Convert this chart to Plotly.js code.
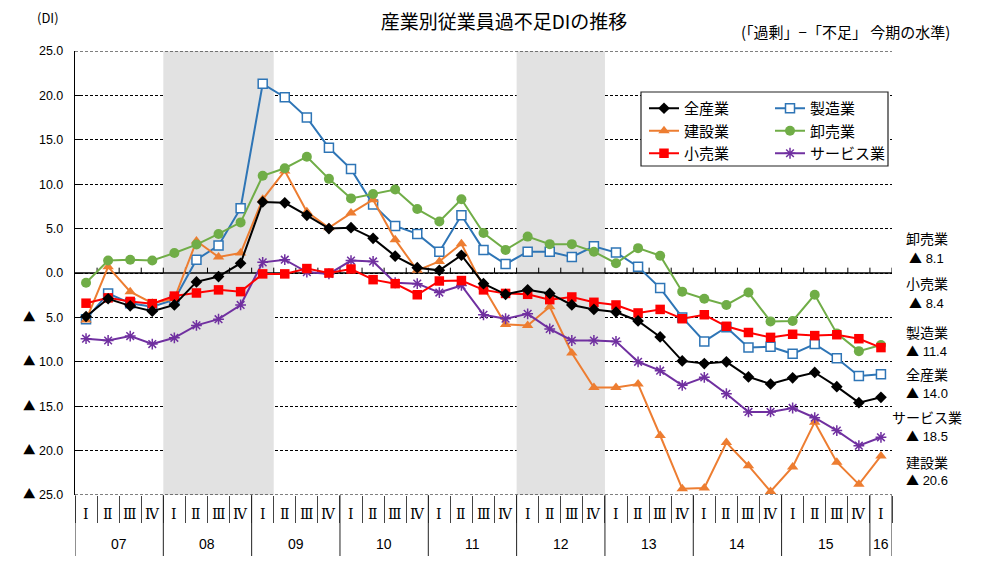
<!DOCTYPE html>
<html><head><meta charset="utf-8">
<script src="https://cdn.plot.ly/plotly-3.0.1.min.js"></script>
<style>body{margin:0;background:#fff}#chart{width:1000px;height:570px}</style>
</head><body><div id="chart"></div>
<script>
// ---- data ----
const years = ['07','08','09','10','11','12','13','14','15','16'];
const quarterNames = ['Ⅰ','Ⅱ','Ⅲ','Ⅳ'];
const periods = [];
years.forEach(y => quarterNames.forEach(q => { if (periods.length < 37) periods.push(y + q); }));

const allIndustry = [-4.9,-2.9,-3.7,-4.3,-3.6,-1.0,-0.4,1.1,8.0,7.9,6.5,5.0,5.1,3.9,1.9,0.6,0.3,2.0,-1.2,-2.4,-1.9,-2.3,-3.6,-4.1,-4.4,-5.4,-7.2,-9.9,-10.2,-10.0,-11.7,-12.5,-11.8,-11.2,-12.8,-14.6,-14.0];
const manufacturing = [-5.2,-2.3,-3.4,-3.8,-3.0,1.5,3.1,7.3,21.3,19.8,17.5,14.1,11.7,7.7,5.3,4.4,2.4,6.5,2.6,1.0,2.4,2.4,1.8,3.0,2.3,0.7,-1.7,-5.0,-7.7,-6.1,-8.4,-8.3,-9.1,-8.0,-9.6,-11.6,-11.4];
const construction = [-5.3,0.7,-2.1,-3.4,-2.9,3.6,1.8,2.25,8.3,11.5,6.9,5.1,6.75,8.25,3.75,0.3,1.3,3.3,-1.6,-5.8,-5.9,-3.8,-9.0,-12.9,-12.9,-12.5,-18.3,-24.3,-24.2,-19.1,-21.7,-24.6,-21.85,-16.8,-21.3,-23.8,-20.6];
const wholesale = [-1.1,1.4,1.5,1.4,2.25,3.2,4.4,5.7,10.95,11.8,13.1,10.6,8.4,8.9,9.4,7.2,5.8,8.3,4.5,2.6,4.1,3.25,3.25,2.4,1.1,2.8,1.95,-2.1,-2.9,-3.6,-2.2,-5.45,-5.4,-2.45,-6.8,-8.8,-8.1];
const retail = [-3.4,-2.8,-3.2,-3.45,-2.6,-2.25,-1.9,-2.1,-0.1,-0.1,0.5,0.0,0.45,-0.75,-1.2,-2.45,-0.9,-0.85,-1.9,-2.3,-2.4,-3.0,-2.7,-3.3,-3.6,-4.5,-4.1,-5.15,-4.7,-6.0,-6.7,-7.25,-6.9,-7.05,-6.95,-7.4,-8.4];
const services = [-7.4,-7.6,-7.1,-8.0,-7.3,-5.9,-5.2,-3.6,1.2,1.5,0.1,-0.1,1.4,1.3,-1.1,-1.2,-2.2,-1.4,-4.7,-5.15,-4.6,-6.3,-7.6,-7.6,-7.7,-10.0,-11.0,-12.65,-11.75,-13.6,-15.65,-15.65,-15.2,-16.3,-17.75,-19.45,-18.5];

const yTicks = [25,20,15,10,5,0,-5,-10,-15,-20,-25];
const shadedPeriods = [['08Ⅰ','09Ⅰ'], ['12Ⅰ','12Ⅳ']];

// ---- helpers ----
const W = 1000, H = 570, L = 75, R = 892, T = 51, B = 495;
const px = x => (x - L) / (R - L);
const py = y => (B - y) / (B - T);
const xIdx = periods.map((p, i) => i);
const TRI = '<span style="font-family:Noto Sans CJK JP">▲</span>';
const fmt = v => v < 0 ? TRI + ' ' + (-v).toFixed(1) : v.toFixed(1);
const fmtTick = v => v < 0 ? TRI + ' ' + (-v < 10 ? '\u2007' : '') + (-v).toFixed(1) : v.toFixed(1);
const CJK = '"Noto Sans CJK JP", "Noto Sans", sans-serif';
const LAT = '"Liberation Sans", Arial, sans-serif';
const ROM = '"DejaVu Serif", "Noto Sans CJK JP", serif';

function series(name, y, color, symbol, size, legend, rank, markerFill, mlw) {
  return {
    type: 'scatter', mode: 'lines+markers', x: xIdx, y: y, name: name,
    legend: legend, legendrank: rank,
    line: {color: color, width: 2},
    marker: {symbol: symbol, size: size, color: markerFill || color,
             line: {color: color, width: mlw || 0}},
    hoverinfo: 'skip'
  };
}

const traces = [
  series('製造業', manufacturing, '#2E75B6', 'square', 9, 'legend2', 1, '#ffffff', 1.5),
  series('建設業', construction, '#ED7D31', 'triangle-up', 10, 'legend', 2),
  series('卸売業', wholesale, '#70AD47', 'circle', 10, 'legend2', 2),
  series('サービス業', services, '#7030A0', 'asterisk-open', 9, 'legend2', 3, '#7030A0', 1.5),
  series('小売業', retail, '#FF0000', 'square', 9.5, 'legend', 3),
  series('全産業', allIndustry, '#000000', 'diamond', 9, 'legend', 1)
];

// boundaries
const yearBounds = [-0.5];
years.forEach(y => {
  const idx = periods.map((p, i) => p.startsWith(y) ? i : -1).filter(i => i >= 0);
  yearBounds.push(idx[idx.length - 1] + 0.5);
});
const quarterBounds = periods.map((p, i) => i - 0.5).concat([periods.length - 0.5]);

const shapes = [];
shadedPeriods.forEach(([a, b]) => {
  shapes.push({type: 'rect', xref: 'x', yref: 'y', x0: periods.indexOf(a) - 0.5, x1: periods.indexOf(b) + 0.5,
    y0: -25, y1: 25, fillcolor: '#e2e2e2', line: {width: 0}, layer: 'between'});
});
[25, -25].forEach(v => shapes.push({type: 'line', xref: 'x', yref: 'y', x0: -0.5, x1: periods.length - 0.5,
  y0: v, y1: v, line: {color: '#000', width: 1, dash: '3px,2px'}, layer: 'between'}));
shapes.push({type: 'line', xref: 'x', yref: 'y', x0: -0.5, x1: periods.length - 0.5, y0: 0, y1: 0,
  line: {color: '#000', width: 1.5}, layer: 'between'});
quarterBounds.slice(1).forEach(b => shapes.push({type: 'line', xref: 'x', yref: 'y', x0: b, x1: b, y0: 0, y1: 0.6,
  line: {color: '#000', width: 1}, layer: 'between'}));
// year separators in the category table
yearBounds.forEach(b => shapes.push({type: 'line', xref: 'x', yref: 'paper', x0: b, x1: b, y0: 0, y1: py(556),
  line: {color: '#222', width: 1}, layer: 'above'}));
// legend frame
shapes.push({type: 'rect', xref: 'paper', yref: 'paper', x0: px(641), x1: px(888), y0: py(166), y1: py(92),
  fillcolor: '#ffffff', line: {color: '#222', width: 1.2}, layer: 'above'});

const annotations = [];
periods.forEach((p, i) => annotations.push({xref: 'x', yref: 'paper', x: i, y: py(514), text: quarterNames[i % 4],
  showarrow: false, xanchor: 'center', yanchor: 'middle', font: {family: ROM, size: 14, color: '#000'}}));
years.forEach(y => {
  const idx = periods.map((p, i) => p.startsWith(y) ? i : -1).filter(i => i >= 0);
  const c = (idx[0] + idx[idx.length - 1]) / 2;
  annotations.push({xref: 'x', yref: 'paper', x: c, y: py(544), text: y, showarrow: false,
    xanchor: 'center', yanchor: 'middle', font: {family: LAT, size: 14, color: '#000'}});
});
annotations.push({xref: 'paper', yref: 'paper', x: px(48), y: py(18), text: '(DI)', showarrow: false,
  xanchor: 'center', yanchor: 'middle', font: {family: CJK, size: 13, color: '#000'}});
annotations.push({xref: 'paper', yref: 'paper', x: px(845), y: py(31), text: '(「過剰」−「不足」 今期の水準)', showarrow: false,
  xanchor: 'center', yanchor: 'middle', font: {family: CJK, size: 15, color: '#000'}});

// latest-level labels on the right
const sideLabels = [
  {name: '卸売業', data: wholesale, yn: 238, yv: 257},
  {name: '小売業', data: retail, yn: 283, yv: 302},
  {name: '製造業', data: manufacturing, yn: 332, yv: 350},
  {name: '全産業', data: allIndustry, yn: 374, yv: 392},
  {name: 'サービス業', data: services, yn: 417, yv: 435},
  {name: '建設業', data: construction, yn: 462, yv: 479}
];
sideLabels.forEach(s => {
  annotations.push({xref: 'paper', yref: 'paper', x: px(927), y: py(s.yn), text: s.name, showarrow: false,
    xanchor: 'center', yanchor: 'middle', font: {family: CJK, size: 14, color: '#000'}});
  annotations.push({xref: 'paper', yref: 'paper', x: px(927), y: py(s.yv), text: fmt(s.data[s.data.length - 1]), showarrow: false,
    xanchor: 'center', yanchor: 'middle', font: {family: LAT, size: 13, color: '#000'}});
});

const legendCommon = {orientation: 'v', yanchor: 'top', xanchor: 'left', bgcolor: 'rgba(0,0,0,0)', borderwidth: 0,
  font: {family: CJK, size: 15, color: '#000'}, itemwidth: 30, tracegroupgap: 0};

const layout = {
  width: W, height: H,
  margin: {l: L, r: W - R, t: T, b: H - B, pad: 0},
  paper_bgcolor: '#fff', plot_bgcolor: '#fff',
  title: {text: '産業別従業員過不足DIの推移', xref: 'container', yref: 'container', x: 0.504, y: 1 - 22 / H,
    xanchor: 'center', yanchor: 'middle', font: {family: CJK, size: 19, color: '#000'}},
  xaxis: {range: [-0.5, periods.length - 0.5], showgrid: false, zeroline: false, showline: false,
    tickmode: 'array', tickvals: quarterBounds, ticks: 'outside', ticklen: 27,
    tickcolor: '#444', tickwidth: 1, showticklabels: false, fixedrange: true},
  yaxis: {range: [-25, 25], tickmode: 'array', tickvals: yTicks, ticktext: yTicks.map(fmtTick),
    showgrid: true, gridcolor: '#000', gridwidth: 1, griddash: '3px,2px', zeroline: false,
    showline: true, linecolor: '#000', linewidth: 1.2, ticks: 'inside', ticklen: 5, tickcolor: '#000',
    tickfont: {family: LAT, size: 12.5, color: '#000'}, ticklabelstandoff: 8, fixedrange: true},
  showlegend: true,
  legend: Object.assign({}, legendCommon, {x: px(644), y: py(92)}),
  legend2: Object.assign({}, legendCommon, {x: px(770), y: py(92)}),
  shapes: shapes,
  annotations: annotations
};

Plotly.newPlot('chart', traces, layout, {displayModeBar: false, staticPlot: true});
</script>
</body></html>
